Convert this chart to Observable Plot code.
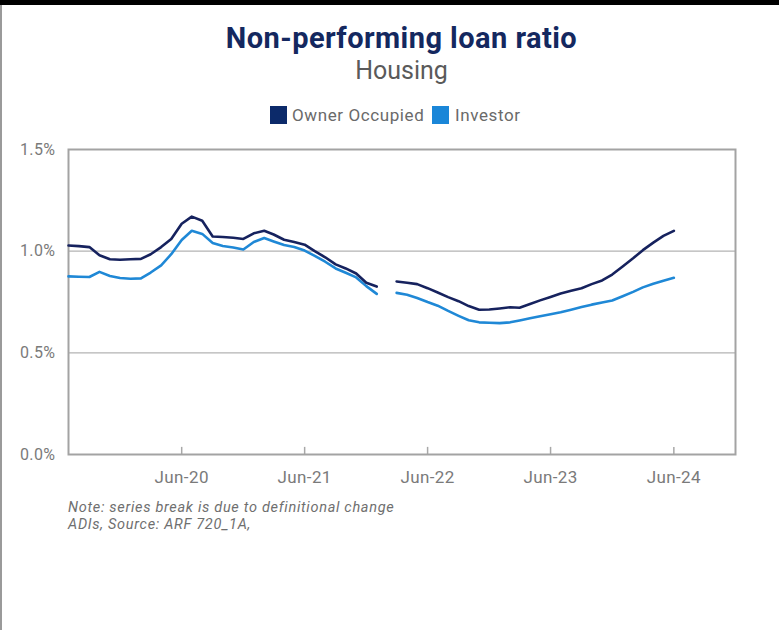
<!DOCTYPE html>
<html>
<head>
<meta charset="utf-8">
<script src="https://cdn.jsdelivr.net/npm/d3@7"></script>
<script src="https://cdn.jsdelivr.net/npm/@observablehq/plot@0.6"></script>
<style>
  html, body { margin: 0; padding: 0; background: #fff; }
  #page { position: relative; width: 779px; height: 630px; overflow: hidden; font-family: Roboto, "DejaVu Sans", sans-serif; }
  #topbar { position: absolute; left: 0; top: 0; width: 779px; height: 5px; background: #000; }
  #leftline { position: absolute; left: 0; top: 5px; width: 2px; height: 625px; background: #9a9a9a; }
  #title { position: absolute; left: 0; width: 779px; top: 23px; line-height: 30px; text-align: center; font-size: 29px; letter-spacing: 0.45px; font-weight: 700; color: #14285f; padding-left: 24px; box-sizing: border-box; }
  #subtitle { position: absolute; left: 0; width: 779px; top: 57px; line-height: 28px; text-align: center; font-size: 25px; color: #5a5a5a; padding-left: 24px; box-sizing: border-box; }
  #legend { position: absolute; top: 106px; left: 0; width: 779px; height: 18px; }
  .sw { position: absolute; top: 0; width: 17px; height: 18px; }
  .lt { position: absolute; top: 0; line-height: 18px; font-size: 17px; letter-spacing: 0.6px; color: #6a6a6a; white-space: nowrap; }
  #chart { position: absolute; left: 0; top: 140px; }
  #note { position: absolute; left: 68px; top: 499px; font-size: 14.5px; letter-spacing: 0.7px; line-height: 17px; font-style: italic; color: #6f6f6f; }
  #note div { height: 17px; white-space: nowrap; }
</style>
</head>
<body>
<div id="page">
  <div id="topbar"></div>
  <div id="leftline"></div>
  <div id="title"></div>
  <div id="subtitle"></div>
  <div id="legend"></div>
  <div id="chart"></div>
  <div id="note"></div>
</div>
<script>
const titleText = "Non-performing loan ratio";
const subtitleText = "Housing";
const noteLines = ["Note: series break is due to definitional change", "ADIs, Source: ARF 720_1A,"];

const seriesNames = ["Owner Occupied", "Investor"];
const seriesColors = ["#16225e", "#1f88d6"];
const swatchColors = ["#0c2a6a", "#1a86d8"];

const months = [
  "2019-07","2019-08","2019-09","2019-10","2019-11","2019-12",
  "2020-01","2020-02","2020-03","2020-04","2020-05","2020-06","2020-07","2020-08","2020-09","2020-10","2020-11","2020-12",
  "2021-01","2021-02","2021-03","2021-04","2021-05","2021-06","2021-07","2021-08","2021-09","2021-10","2021-11","2021-12",
  "2022-01","2022-02","2022-03","2022-04","2022-05","2022-06","2022-07","2022-08","2022-09","2022-10","2022-11","2022-12",
  "2023-01","2023-02","2023-03","2023-04","2023-05","2023-06","2023-07","2023-08","2023-09","2023-10","2023-11","2023-12",
  "2024-01","2024-02","2024-03","2024-04","2024-05","2024-06"
];

const ownerOccupied = [
  1.028, 1.025, 1.020, 0.980, 0.960, 0.958,
  0.960, 0.962, 0.985, 1.020, 1.060, 1.135, 1.170, 1.150, 1.072, 1.070, 1.066, 1.060,
  1.088, 1.100, 1.082, 1.056, 1.045, 1.032, 1.000, 0.970, 0.935, 0.915, 0.890, 0.845,
  0.826, null, 0.851, 0.845, 0.838, 0.818, 0.797, 0.774, 0.754, 0.730, 0.712, 0.713,
  0.718, 0.724, 0.722, 0.740, 0.758, 0.775, 0.792, 0.805, 0.818, 0.838, 0.856, 0.885,
  0.925, 0.965, 1.005, 1.042, 1.075, 1.100
];

const investor = [
  0.876, 0.874, 0.873, 0.898, 0.878, 0.868,
  0.864, 0.866, 0.895, 0.930, 0.985, 1.055, 1.100, 1.085, 1.040, 1.025, 1.018, 1.008,
  1.045, 1.065, 1.048, 1.030, 1.020, 1.003, 0.977, 0.948, 0.915, 0.894, 0.871, 0.828,
  0.790, null, 0.795, 0.786, 0.770, 0.750, 0.732, 0.706, 0.682, 0.660, 0.650, 0.648,
  0.646, 0.650, 0.659, 0.670, 0.680, 0.690, 0.700, 0.712, 0.725, 0.737, 0.748, 0.757,
  0.778, 0.800, 0.822, 0.840, 0.855, 0.869
];

const xTicks = ["2020-06", "2021-06", "2022-06", "2023-06", "2024-06"];
const xTickLabels = ["Jun-20", "Jun-21", "Jun-22", "Jun-23", "Jun-24"];
const yTicks = [0, 0.5, 1.0, 1.5];
const yTickLabels = ["0.0%", "0.5%", "1.0%", "1.5%"];
const gridValues = [0.5, 1.0];
const xDomain = ["2019-07", "2024-12"];

// header
document.getElementById("title").textContent = titleText;
document.getElementById("subtitle").textContent = subtitleText;
const legend = document.getElementById("legend");
const legendPos = [[270, 292], [432, 455]];
seriesNames.forEach((n, i) => {
  const s = document.createElement("div");
  s.className = "sw"; s.style.left = legendPos[i][0] + "px"; s.style.background = swatchColors[i];
  const t = document.createElement("div");
  t.className = "lt"; t.style.left = legendPos[i][1] + "px"; t.textContent = n;
  legend.appendChild(s); legend.appendChild(t);
});
document.getElementById("note").innerHTML = noteLines.map(l => `<div>${l}</div>`).join("");

const toDate = s => new Date(s + "-01T00:00:00Z");
const data = [];
months.forEach((m, i) => {
  data.push({date: toDate(m), value: investor[i], series: "Investor"});
});
months.forEach((m, i) => {
  data.push({date: toDate(m), value: ownerOccupied[i], series: "Owner Occupied"});
});
const tickDates = xTicks.map(toDate);

const chart = Plot.plot({
  width: 779,
  height: 359,
  marginLeft: 68,
  marginRight: 44,
  marginTop: 9,
  marginBottom: 45,
  style: {fontFamily: "Roboto, 'DejaVu Sans', sans-serif", fontSize: "17px", letterSpacing: "0.4px", background: "transparent", overflow: "visible"},
  x: {type: "utc", domain: xDomain.map(toDate)},
  y: {domain: [0, 1.5]},
  color: {domain: seriesNames, range: seriesColors},
  marks: [
    Plot.ruleY(gridValues, {stroke: "#b3b3b3", strokeWidth: 1.3}),
    Plot.ruleX(tickDates, {y1: 0, y2: 0.035, stroke: "#a8a8a8", strokeWidth: 1.5}),
    Plot.frame({stroke: "#a3a3a3", strokeWidth: 2}),
    Plot.line(data, {x: "date", y: "value", z: "series", stroke: "series", strokeWidth: 2.6, curve: "linear"}),
    Plot.axisX({ticks: tickDates, tickFormat: (d, i) => xTickLabels[xTicks.indexOf(d3.utcFormat("%Y-%m")(d))], tickSize: 0, tickPadding: 16, color: "#7a7a7a", fontSize: 17, label: null}),
    Plot.axisY({ticks: yTicks, tickFormat: d => yTickLabels[yTicks.indexOf(d)], tickSize: 0, tickPadding: 13, color: "#7a7a7a", fontSize: 16, label: null})
  ]
});
document.getElementById("chart").appendChild(chart);
</script>
</body>
</html>
